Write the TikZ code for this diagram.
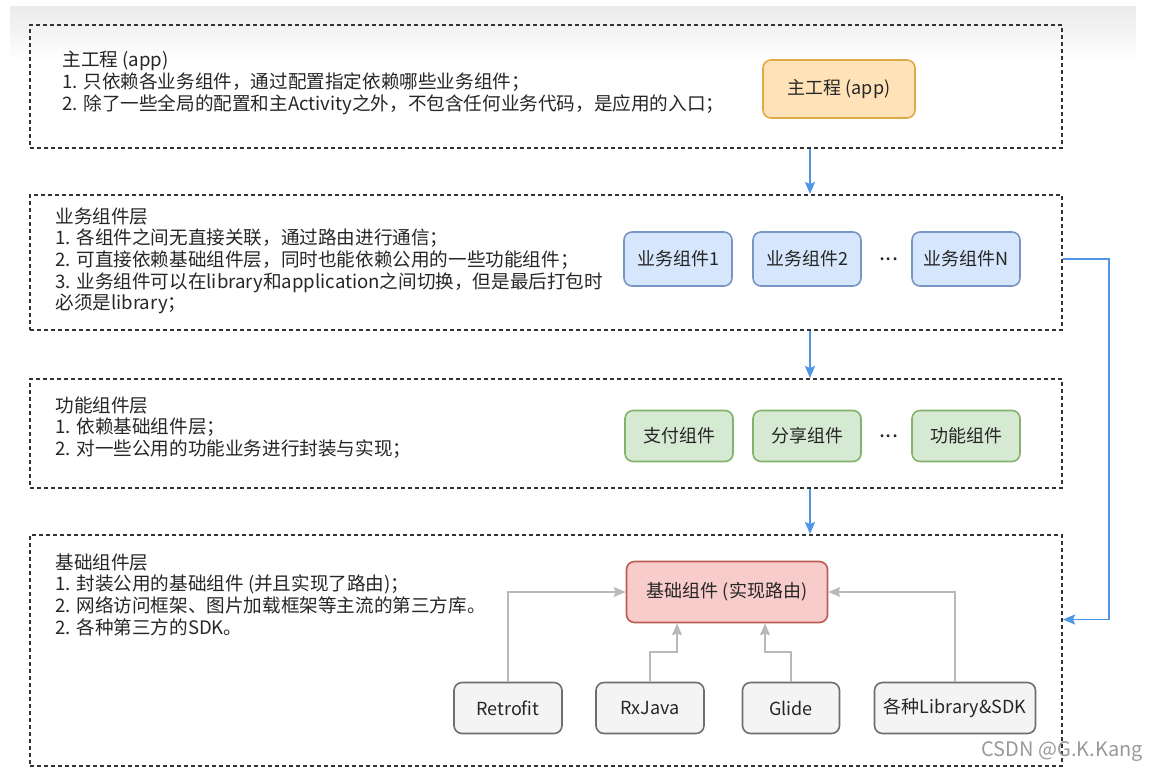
\documentclass[tikz,border=0pt]{standalone}
\usepackage{fontspec}
\setmainfont{Noto Sans CJK SC}
\usepackage{tikz}
\usetikzlibrary{arrows.meta,positioning,calc}
\definecolor{appfill}{RGB}{255,226,184}
\definecolor{appdraw}{RGB}{222,170,70}
\definecolor{bizfill}{RGB}{214,230,252}
\definecolor{bizdraw}{RGB}{120,150,196}
\definecolor{funcfill}{RGB}{214,233,210}
\definecolor{funcdraw}{RGB}{132,178,106}
\definecolor{basefill}{RGB}{248,204,202}
\definecolor{basedraw}{RGB}{190,90,86}
\definecolor{libfill}{RGB}{244,244,244}
\definecolor{libdraw}{RGB}{110,110,110}
\definecolor{flowcolor}{RGB}{80,150,230}
\definecolor{linkcolor}{RGB}{185,185,185}
\tikzstyle{layer}=[draw=black!80, line width=1pt, dash pattern=on 2pt off 1.5pt, inner sep=0pt]
\tikzstyle{desc}=[anchor=north west, align=left, inner sep=0pt, text=black!85, font=\fontsize{9.3}{10.85}\selectfont]
\tikzstyle{comp}=[rectangle, rounded corners=4pt, line width=0.8pt, inner sep=0pt, text=black!85, font=\fontsize{9}{10}\selectfont]
\tikzstyle{app comp}=[comp, fill=appfill, draw=appdraw, minimum width=76pt, minimum height=29pt]
\tikzstyle{biz comp}=[comp, fill=bizfill, draw=bizdraw, minimum width=54pt, minimum height=27pt]
\tikzstyle{func comp}=[comp, fill=funcfill, draw=funcdraw, minimum width=54pt, minimum height=25.5pt]
\tikzstyle{base comp}=[comp, fill=basefill, draw=basedraw, minimum width=100.5pt, minimum height=30.5pt]
\tikzstyle{lib comp}=[comp, fill=libfill, draw=libdraw, minimum height=25.5pt]
\tikzstyle{gap dots}=[text=black!85, font=\fontsize{11}{11}\selectfont]
\tikzstyle{flow}=[-{Stealth[length=6pt,width=5pt,inset=1pt]}, line width=0.8pt, flowcolor]
\tikzstyle{link}=[-{Stealth[length=6pt,width=5pt,inset=1pt]}, line width=0.8pt, linkcolor]

\begin{document}
\begin{tikzpicture}[x=0.5pt, y=-0.5pt]
\def\bizrow{259}
\def\funcrow{436}
\def\librow{708}
\def\lft{30}
\def\rgt{1062}

    \useasboundingbox (0,0) rectangle (1154,772);
    \shade[top color=black!8, bottom color=white] (10,6) rectangle (1136,62);

    % the four layers
    \foreach \name / \top / \bot in {L1/25/148, L2/195/330, L3/379/488, L4/535/766}
        \node[layer, minimum width={(\rgt-\lft)*0.5pt}, minimum height={(\bot-\top)*0.5pt}]
            (\name) at ({(\lft+\rgt)/2},{(\top+\bot)/2}) {};

    \node[desc] (L1-text) at (62,51) {主工程 (app)\\
        1. 只依赖各业务组件，通过配置指定依赖哪些业务组件；\\
        2. 除了一些全局的配置和主Activity之外，不包含任何业务代码，是应用的入口；};
    \node[desc] (L2-text) at (55,207) {业务组件层\\
        1. 各组件之间无直接关联，通过路由进行通信；\\
        2. 可直接依赖基础组件层，同时也能依赖公用的一些功能组件；\\
        3. 业务组件可以在library和application之间切换，但是最后打包时\\
        必须是library；};
    \node[desc] (L3-text) at (55,396) {功能组件层\\
        1. 依赖基础组件层；\\
        2. 对一些公用的功能业务进行封装与实现；};
    \node[desc] (L4-text) at (55,553) {基础组件层\\
        1. 封装公用的基础组件 (并且实现了路由)；\\
        2. 网络访问框架、图片加载框架等主流的第三方库。\\
        2. 各种第三方的SDK。};

    \node[app comp] (app) at (839,89) {主工程 (app)};

    \foreach \name / \x / \txt in {1/678/业务组件1, 2/807/业务组件2, 3/966/业务组件N}
        \node[biz comp] (B-\name) at (\x,\bizrow) {\txt};
    \node[gap dots] (B-dots) at (889,\bizrow) {...};

    \foreach \name / \x / \txt in {1/679/支付组件, 2/807/分享组件, 3/966/功能组件}
        \node[func comp] (F-\name) at (\x,\funcrow) {\txt};
    \node[gap dots] (F-dots) at (889,\funcrow) {...};

    \node[base comp] (base) at (727,592) {基础组件 (实现路由)};

    \foreach \name / \x / \w / \txt in {1/508/54/Retrofit, 2/650/54/RxJava, 3/791/48.5/Glide, 4/955/80.5/各种Library\&SDK}
        \node[lib comp, minimum width=\w pt] (G-\name) at (\x,\librow) {\txt};

    \node[text=black!40, font=\fontsize{10}{10}\selectfont, anchor=east] (mark) at (1150,752) {CSDN @G.K.Kang};

    % dependencies between layers
    \coordinate (axis) at (810,0);
    \path (L1.south -| axis) edge[flow] (L2.north -| axis);
    \path (L2.south -| axis) edge[flow] (L3.north -| axis);
    \path (L3.south -| axis) edge[flow] (L4.north -| axis);
    \draw[flow] (L2.east |- B-3) -- ++(46,0) |- ([yshift=15.5pt]L4.east);

    % libraries into the base component
    \draw[link] (G-1.north) |- (base.west);
    \draw[link] (G-2.north) -- ++(0,-30) -| ([xshift=-25pt]base.south);
    \draw[link] (G-3.north) -- ++(0,-30) -| ([xshift=19pt]base.south);
    \draw[link] (G-4.north) |- (base.east);

\end{tikzpicture}
\end{document}
